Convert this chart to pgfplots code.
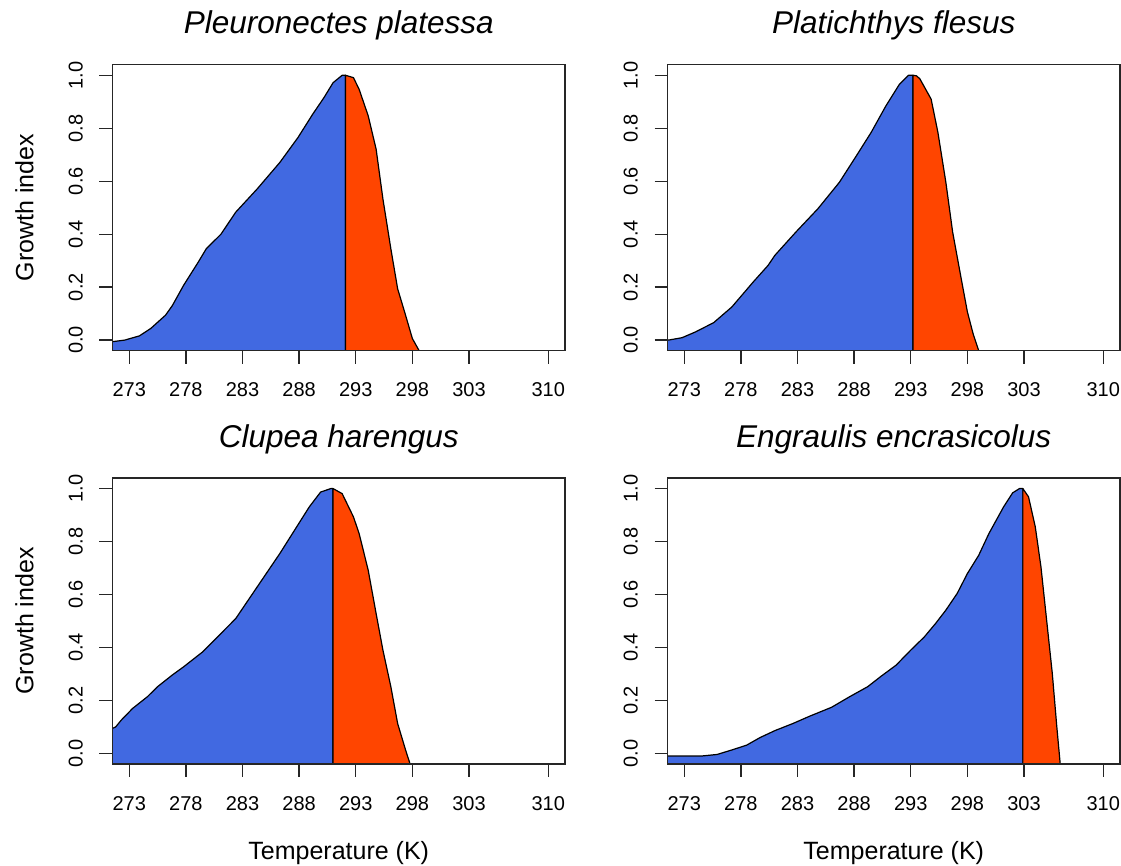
\documentclass[border=0pt]{standalone}
\usepackage{fontspec}
\setmainfont{Liberation Sans}
\usepackage{graphicx}
\usepackage{pgfplots}
\pgfplotsset{compat=1.18}
\definecolor{royalblue}{HTML}{4169E1}
\definecolor{orangered}{HTML}{FF4500}
\pgfplotsset{
  panel/.style={
    scale only axis, width=452.5pt, height=286pt,
    xmin=271.52, xmax=311.48, ymin=-0.04, ymax=1.04,
    xtick={273,278,283,288,293,298,303,310},
    ytick={0,0.2,0.4,0.6,0.8,1.0},
    tick align=outside, xtick pos=bottom, ytick pos=left,
    major tick length=13pt,
    every tick/.style={black!85, line width=1.3pt},
    axis line style={black!85, line width=1.6pt},
    axis on top,
    /pgf/number format/assume math mode=true,
    xticklabel style={font=\fontsize{20}{23}\selectfont, anchor=north, inner sep=0pt, yshift=-19pt},
    yticklabel={\rotatebox{90}{\pgfmathprintnumber[fixed,fixed zerofill,precision=1,assume math mode=true]{\tick}}},
    yticklabel style={font=\fontsize{20}{23}\selectfont, anchor=east, inner sep=0pt, xshift=-16.5pt},
    title style={at={(axis description cs:0.5,1)}, anchor=base, yshift=24.7pt, inner sep=0pt, font=\fontsize{31.5}{36}\selectfont\itshape},
    ylabel style={at={(axis description cs:-0.175,0.5)}, anchor=base, inner sep=0pt, font=\fontsize{25}{30}\selectfont},
    xlabel style={at={(axis description cs:0.5,0)}, anchor=base, inner sep=0pt, yshift=-96pt, font=\fontsize{25}{30}\selectfont},
  },
  blu/.style={fill=royalblue, draw=black, line width=1.2pt, line join=round},
  red/.style={fill=orangered, draw=black, line width=1.2pt, line join=round},
}
\begin{document}
\begin{tikzpicture}[x=1pt,y=1pt]
\useasboundingbox (0,0) rectangle (1121,866);
% Panel 1
\begin{axis}[panel, at={(112.5pt,515.3pt)}, anchor=south west,
  title={Pleuronectes platessa}, ylabel={Growth index}]
\addplot[blu] coordinates {(271,-0.1) (271,-0.006) (271.5,-0.006) (272.6,0.0) (273.9,0.016) (274.9,0.044) (276.2,0.094) (276.8,0.13) (277.8,0.207) (279.1,0.295) (279.8,0.345) (281.1,0.40) (282.4,0.483) (284.3,0.571) (286.3,0.671) (287.9,0.765) (289.2,0.853) (290.2,0.916) (291.0,0.972) (291.8,1.0) (292.1,1.0) (292.1,-0.1)} -- cycle;
\addplot[red] coordinates {(292.1,-0.1) (292.1,1.0) (292.8,0.991) (293.3,0.947) (294.1,0.847) (294.8,0.721) (295.4,0.533) (296.1,0.345) (296.7,0.194) (297.4,0.094) (298.0,0.006) (298.6,-0.04) (298.8,-0.1)} -- cycle;
\end{axis}
% Panel 2
\begin{axis}[panel, at={(667.5pt,515.3pt)}, anchor=south west,
  title={Platichthys flesus}]
\addplot[blu] coordinates {(271,-0.1) (271,0.0) (271.6,0.0) (272.8,0.009) (274.0,0.031) (275.6,0.066) (277.2,0.125) (279.1,0.22) (280.4,0.282) (281.0,0.32) (282.9,0.41) (284.8,0.496) (286.7,0.596) (288.2,0.696) (289.5,0.784) (290.8,0.884) (292.0,0.966) (292.8,1.0) (293.2,1.0) (293.2,-0.1)} -- cycle;
\addplot[red] coordinates {(293.2,-0.1) (293.2,1.0) (293.5,0.998) (293.8,0.987) (294.8,0.91) (295.4,0.784) (296.1,0.596) (296.7,0.408) (297.4,0.245) (298.0,0.107) (298.5,0.025) (299.0,-0.04) (299.2,-0.1)} -- cycle;
\end{axis}
% Panel 3
\begin{axis}[panel, at={(112.5pt,102pt)}, anchor=south west,
  title={Clupea harengus}, ylabel={Growth index}, xlabel={Temperature (K)}]
\addplot[blu] coordinates {(271,-0.1) (271,0.094) (271.5,0.094) (271.8,0.10) (272.3,0.126) (273.3,0.17) (274.6,0.214) (275.5,0.252) (276.8,0.296) (277.8,0.327) (279.5,0.384) (281.1,0.453) (282.4,0.509) (283.7,0.591) (285.0,0.673) (286.3,0.755) (287.6,0.843) (288.9,0.931) (289.9,0.987) (290.8,1.0) (291.0,1.0) (291.0,-0.1)} -- cycle;
\addplot[red] coordinates {(291.0,-0.1) (291.0,1.0) (291.8,0.981) (292.8,0.893) (293.3,0.83) (294.1,0.692) (294.8,0.528) (295.4,0.39) (296.1,0.252) (296.7,0.113) (297.4,0.013) (297.8,-0.04) (297.9,-0.1)} -- cycle;
\end{axis}
% Panel 4
\begin{axis}[panel, at={(667.5pt,102pt)}, anchor=south west,
  title={Engraulis encrasicolus}, xlabel={Temperature (K)}]
\addplot[blu] coordinates {(271,-0.1) (271,-0.01) (274.5,-0.01) (275.9,-0.004) (277.2,0.013) (278.5,0.031) (279.7,0.06) (281.0,0.086) (282.6,0.113) (284.1,0.141) (286.0,0.174) (287.6,0.214) (289.2,0.252) (290.4,0.292) (291.7,0.333) (293.0,0.39) (294.2,0.44) (295.2,0.491) (296.1,0.541) (297.1,0.604) (298.0,0.679) (299.0,0.748) (299.9,0.83) (301.2,0.931) (302.0,0.984) (302.6,1.0) (302.9,1.0) (302.9,-0.1)} -- cycle;
\addplot[red] coordinates {(302.9,-0.1) (302.9,1.0) (303.4,0.969) (304.0,0.855) (304.5,0.704) (305.0,0.503) (305.5,0.302) (305.9,0.10) (306.2,-0.04) (306.3,-0.1)} -- cycle;
\end{axis}
\end{tikzpicture}
\end{document}
